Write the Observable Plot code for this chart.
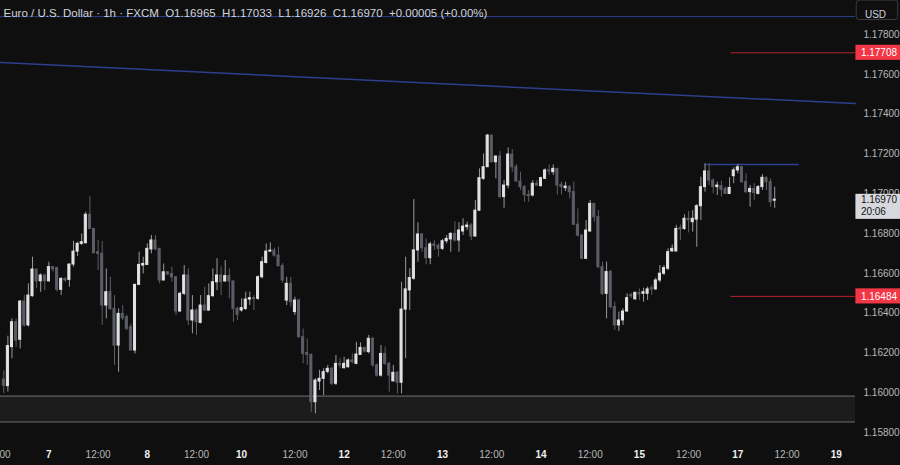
<!DOCTYPE html>
<html><head><meta charset="utf-8">
<script src="https://cdn.jsdelivr.net/npm/d3@7"></script>
<script src="https://cdn.jsdelivr.net/npm/@observablehq/plot@0.6"></script>
<style>
html,body{margin:0;padding:0;background:#0f0f0f;overflow:hidden;}
#chart svg{display:block;}
</style></head><body><div id="chart"></div>
<script>
// EUR/USD 1h candles (FXCM)
const open = [
1.16065,1.16033,1.16229,1.16354,1.16266,1.16458,1.16338,1.16485,1.16619,1.16560,
1.16589,1.16560,1.16631,1.16627,1.16517,1.16572,1.16567,1.16644,1.16709,1.16748,
1.16751,1.16894,1.16823,1.16706,1.16698,1.16438,1.16505,1.16421,1.16237,1.16396,
1.16379,1.16329,1.16212,1.16542,1.16639,1.16642,1.16720,1.16765,1.16723,1.16564,
1.16605,1.16597,1.16580,1.16408,1.16497,1.16589,1.16363,1.16413,1.16351,1.16438,
1.16413,1.16485,1.16555,1.16589,1.16559,1.16586,1.16559,1.16421,1.16413,1.16421,
1.16468,1.16475,1.16472,1.16580,1.16652,1.16709,1.16714,1.16689,1.16636,1.16463,
1.16547,1.16405,1.16463,1.16279,1.16200,1.16190,1.15952,1.16056,1.16070,1.16105,
1.16120,1.16045,1.16145,1.16123,1.16128,1.16162,1.16145,1.16190,1.16225,1.16204,
1.16271,1.16137,1.16086,1.16195,1.16145,1.16057,1.16100,1.16050,1.16418,1.16514,
1.16573,1.16715,1.16795,1.16726,1.16676,1.16745,1.16738,1.16723,1.16761,1.16770,
1.16798,1.16765,1.16810,1.16832,1.16840,1.16785,1.16915,1.17075,1.17133,1.17292,
1.17158,1.17187,1.16983,1.17041,1.17197,1.17133,1.17061,1.17033,1.16994,1.16991,
1.17050,1.17038,1.17075,1.17117,1.17108,1.17125,1.17045,1.17028,1.17033,1.17008,
1.16844,1.16790,1.16673,1.16810,1.16949,1.16882,1.16631,1.16497,1.16606,1.16430,
1.16338,1.16363,1.16408,1.16491,1.16469,1.16500,1.16497,1.16497,1.16525,1.16519,
1.16564,1.16598,1.16623,1.16710,1.16710,1.16827,1.16823,1.16874,1.16857,1.16870,
1.16937,1.17033,1.17112,1.17066,1.17033,1.17038,1.17024,1.16999,1.17088,1.17117,
1.17133,1.17058,1.17008,1.17024,1.16999,1.17033,1.17080,1.17058,1.16965];
const high = [
1.16110,1.16284,1.16371,1.16371,1.16463,1.16488,1.16547,1.16681,1.16619,1.16597,
1.16592,1.16656,1.16634,1.16630,1.16577,1.16577,1.16647,1.16761,1.16756,1.16798,
1.16907,1.16986,1.16825,1.16765,1.16760,1.16622,1.16580,1.16488,1.16421,1.16438,
1.16388,1.16346,1.16545,1.16706,1.16681,1.16748,1.16790,1.16790,1.16725,1.16647,
1.16608,1.16631,1.16582,1.16505,1.16639,1.16622,1.16488,1.16421,1.16488,1.16530,
1.16547,1.16622,1.16673,1.16631,1.16664,1.16622,1.16562,1.16430,1.16472,1.16505,
1.16505,1.16488,1.16589,1.16681,1.16748,1.16753,1.16726,1.16731,1.16648,1.16580,
1.16580,1.16480,1.16470,1.16320,1.16270,1.16195,1.16070,1.16112,1.16120,1.16137,
1.16128,1.16187,1.16170,1.16178,1.16170,1.16195,1.16254,1.16250,1.16229,1.16288,
1.16279,1.16145,1.16237,1.16229,1.16153,1.16137,1.16107,1.16555,1.16681,1.16623,
1.16971,1.16854,1.16798,1.16773,1.16756,1.16765,1.16748,1.16770,1.16790,1.16804,
1.16860,1.16854,1.16874,1.16857,1.16849,1.16966,1.17125,1.17200,1.17298,1.17292,
1.17187,1.17212,1.17066,1.17230,1.17222,1.17147,1.17108,1.17041,1.17016,1.17066,
1.17066,1.17083,1.17125,1.17145,1.17145,1.17125,1.17058,1.17058,1.17041,1.17058,
1.16924,1.16793,1.16865,1.16966,1.16949,1.16916,1.16656,1.16656,1.16614,1.16455,
1.16405,1.16422,1.16497,1.16500,1.16505,1.16522,1.16525,1.16531,1.16539,1.16576,
1.16639,1.16639,1.16723,1.16743,1.16841,1.16843,1.16894,1.16911,1.16915,1.16945,
1.17083,1.17150,1.17150,1.17075,1.17058,1.17063,1.17033,1.17080,1.17130,1.17147,
1.17137,1.17100,1.17041,1.17050,1.17041,1.17096,1.17083,1.17075,1.17033];
const low = [
1.15995,1.16003,1.16170,1.16229,1.16220,1.16330,1.16330,1.16480,1.16522,1.16505,
1.16513,1.16555,1.16606,1.16505,1.16488,1.16555,1.16530,1.16631,1.16684,1.16740,
1.16748,1.16823,1.16698,1.16614,1.16338,1.16371,1.16413,1.16137,1.16103,1.16363,
1.16312,1.16210,1.16195,1.16539,1.16597,1.16639,1.16698,1.16714,1.16547,1.16562,
1.16589,1.16555,1.16388,1.16405,1.16488,1.16337,1.16296,1.16287,1.16346,1.16408,
1.16408,1.16480,1.16513,1.16488,1.16555,1.16472,1.16354,1.16363,1.16405,1.16413,
1.16438,1.16413,1.16463,1.16572,1.16647,1.16706,1.16681,1.16631,1.16550,1.16438,
1.16430,1.16388,1.16275,1.16145,1.16137,1.15902,1.15894,1.16011,1.15986,1.16095,
1.16036,1.16036,1.16120,1.16120,1.16123,1.16145,1.16140,1.16187,1.16200,1.16195,
1.16128,1.16078,1.16078,1.16137,1.16003,1.16053,1.15994,1.15994,1.16171,1.16413,
1.16565,1.16656,1.16706,1.16643,1.16643,1.16715,1.16681,1.16715,1.16748,1.16706,
1.16757,1.16706,1.16790,1.16815,1.16765,1.16782,1.16910,1.17067,1.17133,1.17158,
1.17075,1.16975,1.16927,1.17025,1.17108,1.17061,1.17016,1.16958,1.16957,1.16983,
1.17038,1.17033,1.17071,1.17092,1.17092,1.16994,1.16994,1.17011,1.16974,1.16840,
1.16782,1.16669,1.16669,1.16807,1.16857,1.16623,1.16488,1.16371,1.16422,1.16313,
1.16308,1.16338,1.16405,1.16472,1.16465,1.16464,1.16455,1.16464,1.16489,1.16514,
1.16552,1.16589,1.16614,1.16706,1.16706,1.16765,1.16815,1.16803,1.16807,1.16731,
1.16865,1.17008,1.17041,1.17000,1.16991,1.16983,1.16996,1.16996,1.17050,1.17100,
1.17053,1.17000,1.16932,1.16966,1.16994,1.17016,1.17016,1.16932,1.16926];
const close = [
1.16035,1.16234,1.16354,1.16262,1.16458,1.16338,1.16488,1.16619,1.16560,1.16589,
1.16560,1.16631,1.16620,1.16517,1.16572,1.16564,1.16644,1.16709,1.16748,1.16756,
1.16894,1.16823,1.16701,1.16698,1.16438,1.16505,1.16421,1.16237,1.16396,1.16374,
1.16321,1.16212,1.16542,1.16642,1.16647,1.16723,1.16765,1.16720,1.16564,1.16605,
1.16594,1.16580,1.16408,1.16497,1.16589,1.16363,1.16413,1.16354,1.16438,1.16413,
1.16485,1.16555,1.16589,1.16555,1.16586,1.16559,1.16421,1.16391,1.16425,1.16468,
1.16475,1.16470,1.16580,1.16656,1.16709,1.16714,1.16689,1.16636,1.16564,1.16547,
1.16455,1.16463,1.16279,1.16195,1.16190,1.15952,1.16061,1.16070,1.16103,1.16120,
1.16045,1.16145,1.16137,1.16145,1.16162,1.16154,1.16192,1.16225,1.16207,1.16271,
1.16137,1.16086,1.16195,1.16145,1.16086,1.16100,1.16050,1.16418,1.16519,1.16576,
1.16715,1.16795,1.16726,1.16676,1.16745,1.16738,1.16723,1.16761,1.16773,1.16798,
1.16765,1.16815,1.16835,1.16840,1.16785,1.16915,1.17078,1.17133,1.17292,1.17158,
1.17187,1.16983,1.17041,1.17197,1.17133,1.17061,1.17033,1.16994,1.16988,1.17050,
1.17041,1.17078,1.17117,1.17112,1.17125,1.17041,1.17033,1.17036,1.17008,1.16844,
1.16790,1.16673,1.16815,1.16949,1.16882,1.16631,1.16497,1.16606,1.16430,1.16338,
1.16363,1.16408,1.16475,1.16484,1.16502,1.16494,1.16505,1.16519,1.16519,1.16564,
1.16598,1.16626,1.16706,1.16723,1.16823,1.16820,1.16874,1.16866,1.16874,1.16937,
1.17033,1.17112,1.17066,1.17033,1.17041,1.17019,1.16999,1.17029,1.17117,1.17133,
1.17058,1.17008,1.17024,1.17003,1.17033,1.17080,1.17058,1.16957,1.16970];

// axis ticks (bar index positions) and labels
const yTicks = [1.158,1.160,1.162,1.164,1.166,1.168,1.170,1.172,1.174,1.176,1.178];
const dayTicks = [11, 35, 58, 83, 107, 131, 155, 179, 203];
const dayLabels = ["7", "8", "10", "12", "13", "14", "15", "17", "19"];
const noonTicks = [-1.4, 23, 47, 71, 95, 119, 143, 167, 191];

// drawings
const xDomain = [-0.8, 207.7];
const yDomain = [1.157548, 1.179709];
const zone = [1.15853, 1.15983];
const topLine = 1.1789;
const trendIdx = [-0.8, 207.7];
const trendPrice = [1.17659, 1.17453];
const redLevels = [1.17708, 1.16484];
const levelStart = 177.3;
const resistance = 1.17147;
const resStart = 171, resEnd = 194;
const header = "Euro / U.S. Dollar \u00b7 1h \u00b7 FXCM\u00a0\u00a0O1.16965\u00a0\u00a0H1.17033\u00a0\u00a0L1.16926\u00a0\u00a0C1.16970\u00a0\u00a0+0.00005 (+0.00%)";
const countdown = "20:06";

const candles = open.map((o, i) => ({i, o, h: high[i], l: low[i], c: close[i], up: close[i] >= o}));
const last = close[close.length - 1];
const dayMap = new Map(dayTicks.map((d, k) => [d, dayLabels[k]]));
const fmt = d3.format(".5f");
const boxX1 = xDomain[1] + 0.1, boxX2 = xDomain[1] + 11;
const BULL = "#e3e3e3", BEAR = "#5b5e66", BULLWICK = "#9a9a9a";
const BLUE = "#2c3f8e";

const chart = Plot.plot({
  width: 900, height: 465,
  marginTop: 0, marginRight: 45, marginBottom: 24, marginLeft: 0,
  style: {background: "#0f0f0f", fontFamily: "'Liberation Sans', Arial, sans-serif", fontSize: "10px", color: "#b8b8b8", overflow: "visible"},
  x: {type: "linear", domain: xDomain, label: null},
  y: {type: "linear", domain: yDomain, label: null},
  marks: [
    Plot.rect([zone], {y1: d => d[0], y2: d => d[1], fill: "#1c1c1c"}),
    Plot.ruleY(zone, {stroke: "#707070"}),
    Plot.ruleY([topLine], {stroke: BLUE}),
    Plot.line(trendIdx.map((x, k) => ({x, y: trendPrice[k]})), {x: "x", y: "y", stroke: BLUE}),
    Plot.ruleY(redLevels, {x1: levelStart, x2: xDomain[1], stroke: "#b3242f"}),
    Plot.ruleY([resistance], {x1: resStart, x2: resEnd, stroke: BLUE, strokeWidth: 1.5}),
    Plot.ruleX(candles, {x: "i", y1: "l", y2: "h", stroke: d => d.up ? BULLWICK : BEAR}),
    Plot.rect(candles, {
      x1: d => d.i - 0.25, x2: d => d.i + 0.25,
      y1: d => Math.min(d.o, d.c), y2: d => Math.max(d.o, d.c),
      fill: d => d.up ? BULL : BEAR, stroke: d => d.up ? BULL : BEAR, strokeWidth: 1
    }),
    Plot.axisY(yTicks, {anchor: "right", tickSize: 0, tickPadding: 8, tickFormat: fmt, fill: "#b8b8b8", fontSize: 10}),
    Plot.axisX(noonTicks, {anchor: "bottom", tickSize: 0, tickPadding: 9, tickFormat: () => "12:00", fill: "#b8b8b8", fontSize: 10}),
    Plot.axisX(dayTicks, {anchor: "bottom", tickSize: 0, tickPadding: 9, tickFormat: d => dayMap.get(d), fill: "#f0f0f0", fontWeight: "bold", fontSize: 10}),
    // price labels on the axis
    Plot.rect(redLevels, {x1: boxX1, x2: boxX2, y1: d => d - 0.00038, y2: d => d + 0.00038, fill: "#f23645"}),
    Plot.text(redLevels, {x: boxX1, y: d => d, text: d => fmt(d), textAnchor: "start", dx: 5, fill: "#ffffff", fontSize: 10}),
    Plot.rect([last], {x1: boxX1, x2: boxX2, y1: d => d - 0.00099, y2: d => d + 0.00027, fill: "#d6d8de"}),
    Plot.text([last], {x: boxX1, y: d => d, text: d => fmt(d), textAnchor: "start", dx: 5, fill: "#131313", fontSize: 10}),
    Plot.text([last], {x: boxX1, y: d => d, text: () => countdown, textAnchor: "start", dx: 5, dy: 12, fill: "#131313", fontSize: 10}),
    Plot.rect([yDomain[1]], {x1: boxX1 + 0.2, x2: boxX2 - 0.6, y1: d => d - 0.00098, y2: d => d, fill: "#0f0f0f", stroke: "#3c3c3c", rx: 3}),
    Plot.text(["USD"], {frameAnchor: "top-right", dx: 20, dy: 10, text: d => d, textAnchor: "middle", fill: "#d1d4dc", fontSize: 10}),
    Plot.text([header], {frameAnchor: "top-left", dx: 3, dy: 8, text: d => d, textAnchor: "start", fill: "#d1d4dc", fontSize: 11.5})
  ]
});
document.getElementById("chart").appendChild(chart);
</script></body></html>
